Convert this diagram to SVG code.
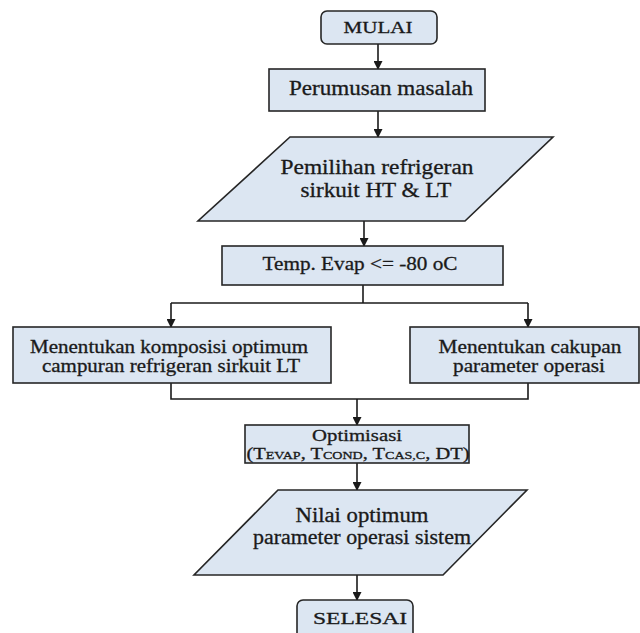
<svg xmlns="http://www.w3.org/2000/svg" width="640" height="633" viewBox="0 0 640 633">
<style>
.box{fill:#dce6f2;stroke:#262626;stroke-width:1.6}
.t{font-family:"Liberation Serif","Times New Roman",serif;fill:#1a1a1a;stroke:#1a1a1a;stroke-width:0.3;text-anchor:middle}
.c{fill:none;stroke:#1a1a1a;stroke-width:1.6}
</style>
<defs>
<marker id="ah" markerWidth="9" markerHeight="9" refX="8" refY="4.5" orient="auto" markerUnits="userSpaceOnUse">
<path d="M0,0 L9,4.5 L0,9 z" fill="#1a1a1a"/>
</marker>
</defs>
<rect width="640" height="633" fill="#ffffff"/>
<g id="connectors">
<line class="c" x1="378" y1="44" x2="378" y2="69" marker-end="url(#ah)"/>
<line class="c" x1="378" y1="111" x2="378" y2="137" marker-end="url(#ah)"/>
<line class="c" x1="364" y1="221" x2="364" y2="246" marker-end="url(#ah)"/>
<polyline class="c" points="363,285 363,303"/>
<polyline class="c" points="171,303 528,303"/>
<line class="c" x1="171" y1="303" x2="171" y2="327" marker-end="url(#ah)"/>
<line class="c" x1="528" y1="303" x2="528" y2="327" marker-end="url(#ah)"/>
<polyline class="c" points="171,383 171,399 528,399 528,383"/>
<line class="c" x1="357" y1="399" x2="357" y2="425" marker-end="url(#ah)"/>
<line class="c" x1="357" y1="463" x2="357" y2="490" marker-end="url(#ah)"/>
<line class="c" x1="357" y1="575" x2="357" y2="600" marker-end="url(#ah)"/>
</g>
<g id="mulai">
<rect class="box" x="321" y="11" width="116" height="33" rx="6"/>
<text class="t" x="378" y="33" font-size="17" textLength="69" lengthAdjust="spacingAndGlyphs">MULAI</text>
</g>
<g id="perumusan">
<rect class="box" x="269" y="69" width="216" height="42"/>
<text class="t" x="381" y="95" font-size="20" textLength="184" lengthAdjust="spacingAndGlyphs">Perumusan masalah</text>
</g>
<g id="pemilihan">
<polygon class="box" points="290,137 553,137 465,221 198,221"/>
<text class="t" x="377" y="174" font-size="20" textLength="193" lengthAdjust="spacingAndGlyphs">Pemilihan refrigeran</text>
<text class="t" x="376" y="197" font-size="20" textLength="151" lengthAdjust="spacingAndGlyphs">sirkuit HT &amp; LT</text>
</g>
<g id="temp">
<rect class="box" x="222" y="246" width="281" height="39"/>
<text class="t" x="360" y="270" font-size="19" textLength="195" lengthAdjust="spacingAndGlyphs">Temp. Evap &lt;= -80 oC</text>
</g>
<g id="komposisi">
<rect class="box" x="13" y="327" width="318" height="56"/>
<text class="t" x="169" y="353" font-size="18" textLength="278" lengthAdjust="spacingAndGlyphs">Menentukan komposisi optimum</text>
<text class="t" x="171" y="372" font-size="18" textLength="258" lengthAdjust="spacingAndGlyphs">campuran refrigeran sirkuit LT</text>
</g>
<g id="cakupan">
<rect class="box" x="410" y="327" width="229" height="56"/>
<text class="t" x="530" y="353" font-size="18" textLength="183" lengthAdjust="spacingAndGlyphs">Menentukan cakupan</text>
<text class="t" x="529" y="372" font-size="18" textLength="152" lengthAdjust="spacingAndGlyphs">parameter operasi</text>
</g>
<g id="optimisasi">
<rect class="box" x="245" y="425" width="224" height="38"/>
<text class="t" x="357" y="441" font-size="17" textLength="90" lengthAdjust="spacingAndGlyphs">Optimisasi</text>
<text class="t" x="358" y="459" font-size="16" textLength="223" lengthAdjust="spacingAndGlyphs">(T<tspan font-size="11">EVAP</tspan>, T<tspan font-size="11">COND</tspan>, T<tspan font-size="11">CAS,C</tspan>, DT)</text>
</g>
<g id="nilai">
<polygon class="box" points="278,490 527,490 443,575 194,575"/>
<text class="t" x="362" y="522" font-size="20" textLength="133" lengthAdjust="spacingAndGlyphs">Nilai optimum</text>
<text class="t" x="362" y="544" font-size="20" textLength="218" lengthAdjust="spacingAndGlyphs">parameter operasi sistem</text>
</g>
<g id="selesai">
<rect class="box" x="297" y="600" width="116" height="40" rx="6"/>
<text class="t" x="360" y="624" font-size="17" textLength="94" lengthAdjust="spacingAndGlyphs">SELESAI</text>
</g>
</svg>
